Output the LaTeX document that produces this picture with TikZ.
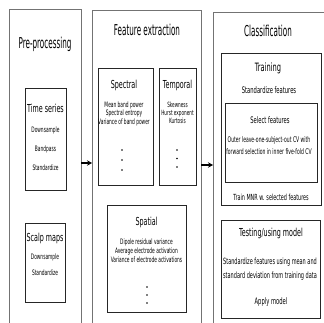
\documentclass[tikz,border=0pt]{standalone}
\usepackage{fontspec}
\setmainfont[FakeStretch=0.58]{DejaVu Sans}
\newfontfamily\headfont[FakeStretch=0.48]{DejaVu Sans}
\usetikzlibrary{arrows.meta}

\tikzset{
	stage/.style = {draw = black!55, line width = 0.6pt, inner sep = 0pt, outer sep = 0pt},
	group/.style = {draw = black!85, line width = 0.6pt, inner sep = 0pt, outer sep = 0pt},
	dims/.style 2 args = {minimum width = #1pt, minimum height = #2pt},
	heading/.style = {font = \headfont\fontsize{15}{17}\selectfont},
	subheading/.style = {font = \fontsize{11}{13}\selectfont},
	txt/.style = {font = \fontsize{7.5}{#1}\selectfont, align = center, inner sep = 0pt},
	clstxt/.style = {font = \fontsize{9}{#1}\selectfont, align = center, inner sep = 0pt},
	flow/.style = {line width = 1.2pt, -{Stealth[length = 5pt, width = 5.5pt]}}
}

\begin{document}
\begin{tikzpicture}[x = 1pt, y = -1pt]
	\useasboundingbox (0,0) rectangle (324,323);
	\clip (0,0) rectangle (324,323);

	% the three stages
	\node[stage, dims = {72}{331}] (pre) at (45,174.5) {};
	\node[stage, dims = {109}{330}] (feat) at (146.5,175) {};
	\node[stage, dims = {122}{328}] (cls) at (274,176) {};

	\draw[flow] (pre.east |- 0,163) -- (feat.west |- 0,163);
	\draw[flow] (feat.east |- 0,165) -- (cls.west |- 0,165);

	% pre-processing
	\draw
	(45,44.5) node[heading](preT){Pre-processing}
	(45.5,139) node[group, dims = {41}{102}](ts){}
	(45.5,108) node[subheading](tsT){Time series}
	(45.5,149) node[txt = 19pt](tsB){Downsample\\Bandpass\\Standardize}
	(45,262.5) node[group, dims = {40}{79}](sm){}
	(45,238) node[subheading](smT){Scalp maps}
	(45,265) node[txt = 16pt](smB){Downsample\\Standardize};

	% feature extraction
	\draw
	(147,30) node[heading](featT){Feature extraction}
	(125.5,126.5) node[group, dims = {55}{117}](spec){}
	(124,85) node[subheading](specT){Spectral}
	(124,113.5) node[txt = 8.5pt](specB){Mean band power\\Spectral entropy\\Variance of band power}
	(177.5,126.5) node[group, dims = {37}{117}](temp){}
	(177.5,85) node[subheading](tempT){Temporal}
	(177.5,113) node[txt = 8pt, font = \fontsize{7.2}{8}\selectfont](tempB){Skewness\\Hurst exponent\\Kurtosis}
	(146.5,258.5) node[group, dims = {79}{107}](spat){}
	(146.5,222) node[subheading](spatT){Spatial}
	(146.5,251) node[txt = 9pt](spatB){Dipole residual variance\\Average electrode activation\\Variance of electrode activations};
	\foreach \y in {150,160,170} \fill (122,\y) circle (0.9pt);	% more spectral
	\foreach \y in {150,158.5,167} \fill (177,\y) circle (0.9pt);	% more temporal
	\foreach \y in {287,295,303} \fill (147,\y) circle (0.9pt);	% more spatial

	% classification
	\draw
	(268,30.5) node[heading](clsT){Classification}
	(271,129) node[group, dims = {100}{152}](train){}
	(268,68) node[subheading, font = \fontsize{11.5}{13}\selectfont](trainT){Training}
	(269,90) node[clstxt = 11pt](std){Standardize features}
	(271,142.5) node[group, dims = {92}{79}](sel){}
	(270,120) node[clstxt = 11pt](selT){Select features}
	(269,146) node[clstxt = 12pt, font = \fontsize{7.8}{12}\selectfont](selB){Outer leave-one-subject-out CV with\\forward selection in inner five-fold CV}
	(271,197) node[clstxt = 11pt, font = \fontsize{8.4}{11}\selectfont](fit){Train MNR w. selected features}
	(270.5,269) node[group, dims = {99}{98}](test){}
	(271,233) node[subheading](testT){Testing/using model}
	(270,269) node[clstxt = 14pt, font = \fontsize{8.6}{14}\selectfont](testB){Standardize features using mean and\\standard deviation from training data}
	(271,302) node[clstxt = 11pt](apply){Apply model};
\end{tikzpicture}
\end{document}
